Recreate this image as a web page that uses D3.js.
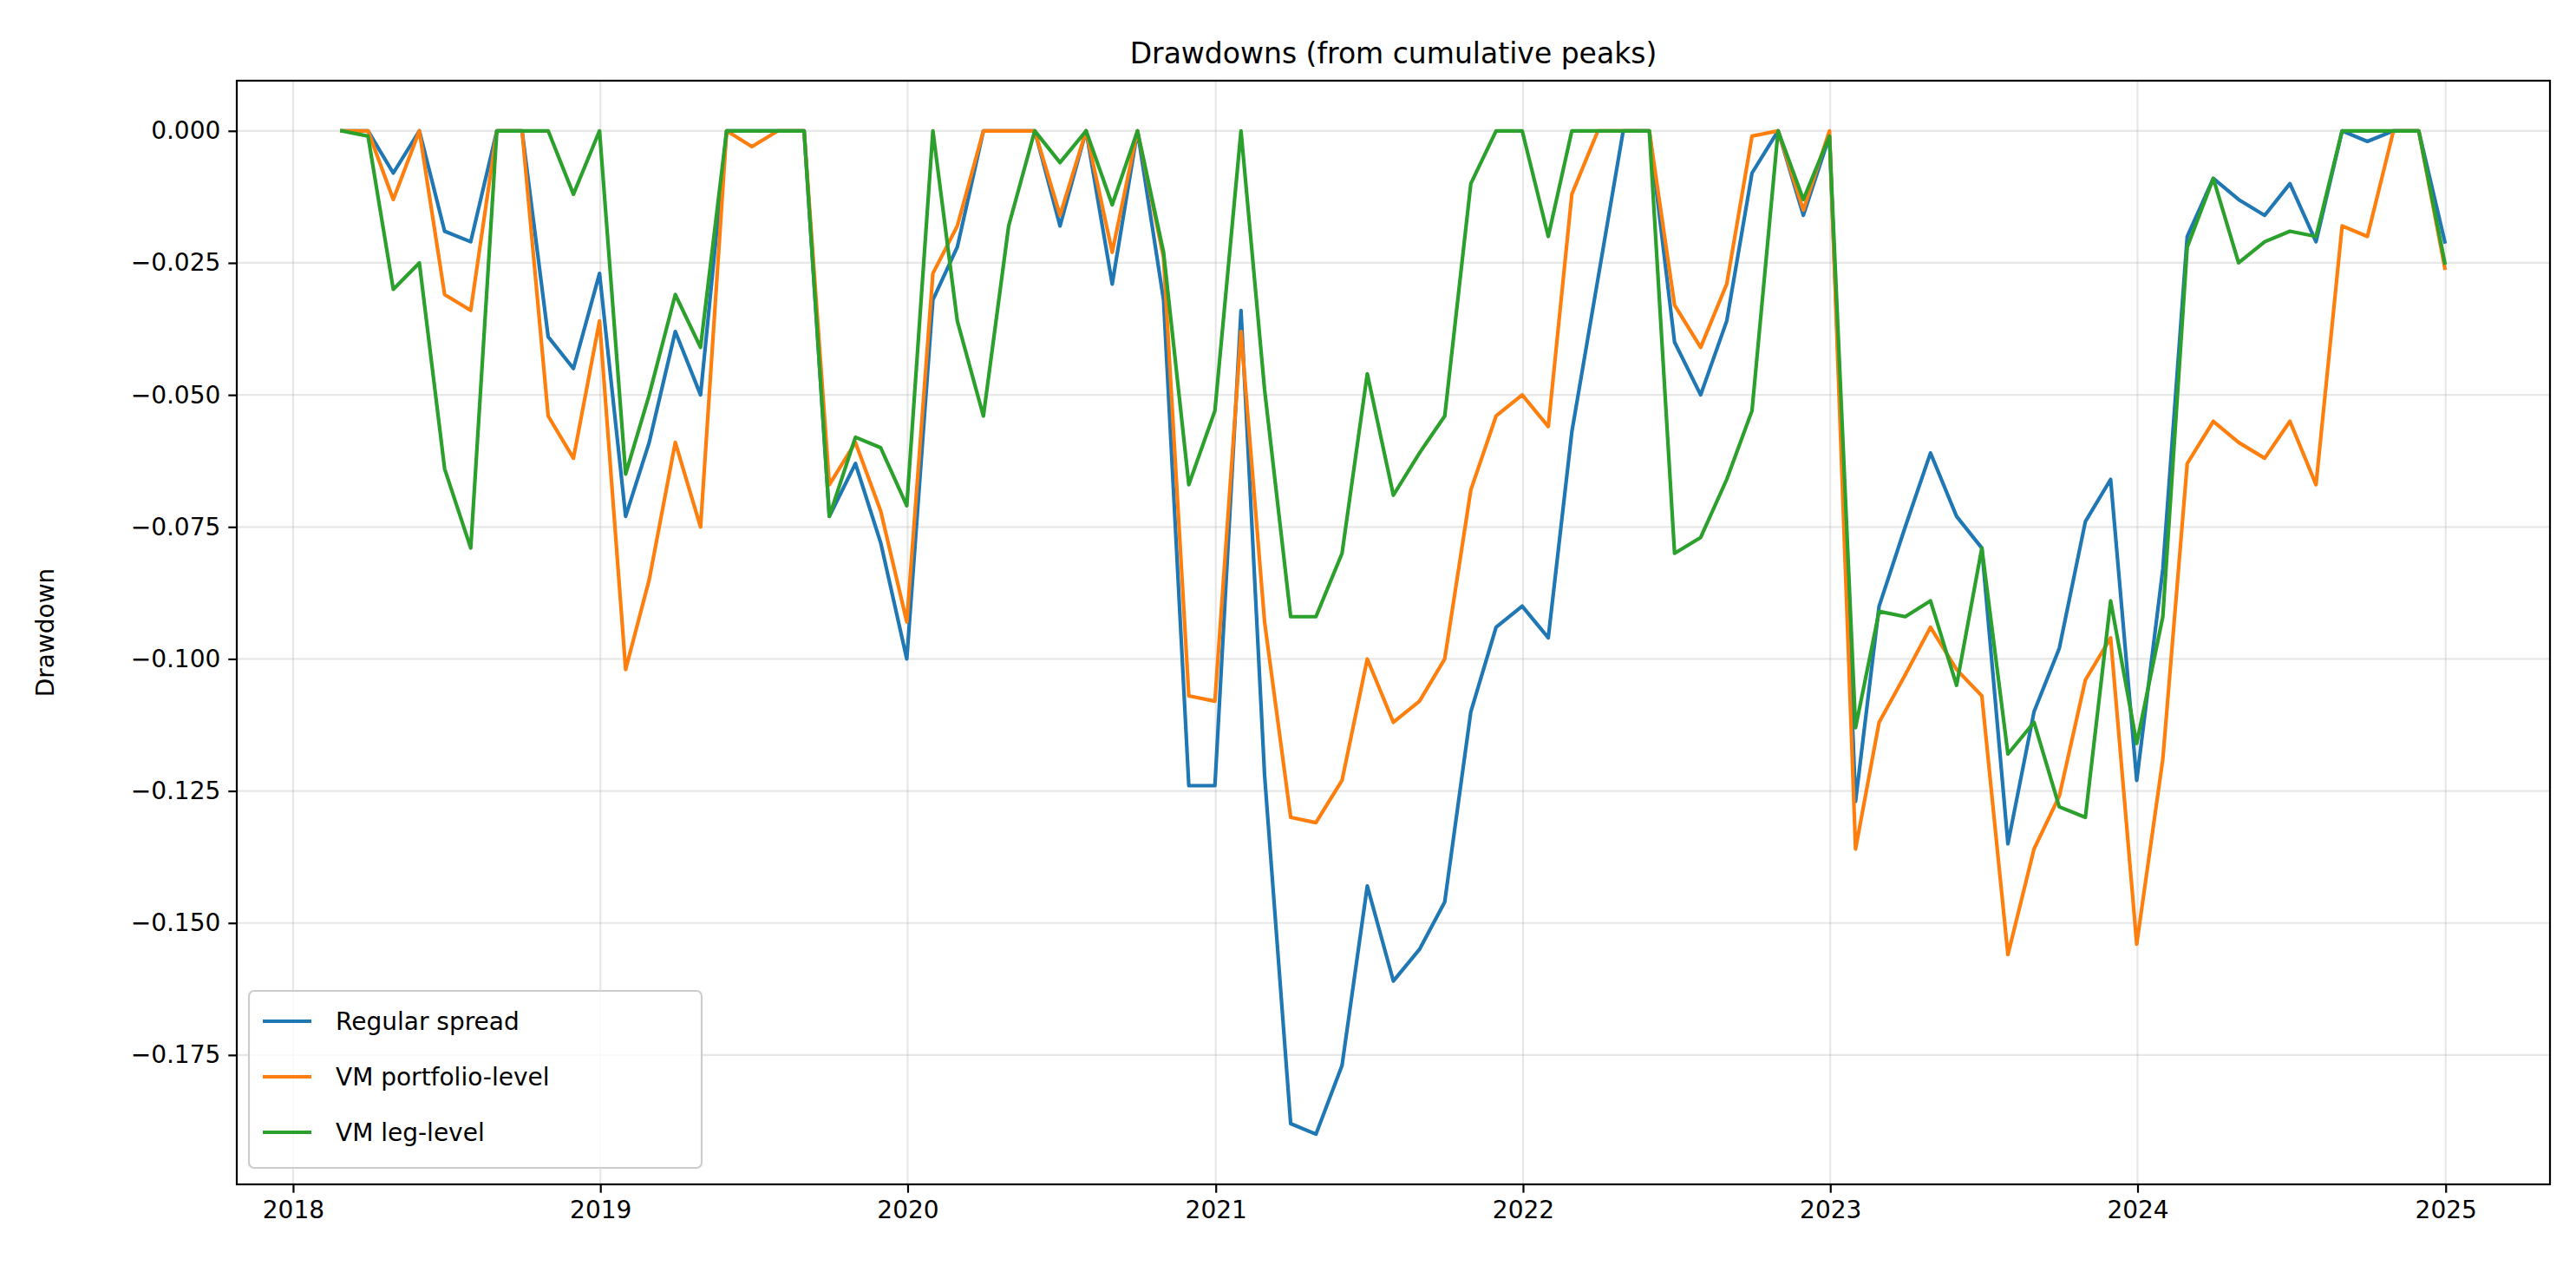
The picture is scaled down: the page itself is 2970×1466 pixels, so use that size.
<!DOCTYPE html>
<html>
<head>
<meta charset="utf-8">
<script src="https://cdn.jsdelivr.net/npm/d3@7"></script>
<style>
  body { margin: 0; background: #fff; }
  text { font-family: "DejaVu Sans", sans-serif; }
</style>
</head>
<body>
<svg id="chart" width="2970" height="1466"></svg>
<script>
// month-end dates, Feb 2018 .. Dec 2024
let months = d3.range(83).map(i => new Date(2018, 2 + i, 0));

let regular = [0, 0, -0.008, 0, -0.019, -0.021, 0, 0, -0.039, -0.045, -0.027,
  -0.073, -0.059, -0.038, -0.050, 0, 0, 0, 0, -0.073, -0.063, -0.078, -0.100,
  -0.032, -0.022, 0, 0, 0, -0.018, 0, -0.029, 0, -0.032, -0.124, -0.124,
  -0.034, -0.122, -0.188, -0.190, -0.177, -0.143, -0.161, -0.155, -0.146, -0.110, -0.094, -0.090,
  -0.096, -0.057, -0.028, 0, 0, -0.040, -0.050, -0.036, -0.008, 0, -0.016, -0.001,
  -0.127, -0.090, -0.075, -0.061, -0.073, -0.079, -0.135, -0.110, -0.098, -0.074, -0.066, -0.123,
  -0.083, -0.020, -0.009, -0.013, -0.016, -0.010, -0.021, 0, -0.002, 0, 0, -0.021];

let vmPortfolio = [0, 0, -0.013, 0, -0.031, -0.034, 0, 0, -0.054, -0.062, -0.036,
  -0.102, -0.085, -0.059, -0.075, 0, -0.003, 0, 0, -0.067, -0.059, -0.072, -0.093,
  -0.027, -0.018, 0, 0, 0, -0.016, 0, -0.023, 0, -0.024, -0.107, -0.108,
  -0.038, -0.093, -0.130, -0.131, -0.123, -0.100, -0.112, -0.108, -0.100, -0.068, -0.054, -0.050,
  -0.056, -0.012, 0, 0, 0, -0.033, -0.041, -0.029, -0.001, 0, -0.015, 0,
  -0.136, -0.112, -0.103, -0.094, -0.102, -0.107, -0.156, -0.136, -0.126, -0.104, -0.096, -0.154,
  -0.119, -0.063, -0.055, -0.059, -0.062, -0.055, -0.067, -0.018, -0.020, 0, 0, -0.026];

let vmLeg = [0, -0.001, -0.030, -0.025, -0.064, -0.079, 0, 0, 0, -0.012, 0,
  -0.065, -0.050, -0.031, -0.041, 0, 0, 0, 0, -0.073, -0.058, -0.060, -0.071,
  0, -0.036, -0.054, -0.018, 0, -0.006, 0, -0.014, 0, -0.023, -0.067, -0.053,
  0, -0.049, -0.092, -0.092, -0.080, -0.046, -0.069, -0.061, -0.054, -0.010, 0, 0,
  -0.020, 0, 0, 0, 0, -0.080, -0.077, -0.066, -0.053, 0, -0.013, -0.001,
  -0.113, -0.091, -0.092, -0.089, -0.105, -0.079, -0.118, -0.112, -0.128, -0.130, -0.089, -0.116,
  -0.092, -0.022, -0.009, -0.025, -0.021, -0.019, -0.020, 0, 0, 0, 0, -0.025];

let seriesNames = ["Regular spread", "VM portfolio-level", "VM leg-level"];
let seriesColors = ["#1f77b4", "#ff7f0e", "#2ca02c"];
let yTicks = [0, -0.025, -0.05, -0.075, -0.1, -0.125, -0.15, -0.175];
let xTicks = d3.range(2018, 2026).map(yr => new Date(yr, 0, 1));

let mLeft = 273, mRight = 2940, mTop = 93, mBottom = 1365;
let svg = d3.select("#chart");

let t0 = months[0].getTime(), t1 = months[months.length - 1].getTime();
let pad = (t1 - t0) * 0.05;
let x = d3.scaleTime().domain([new Date(t0 - pad), new Date(t1 + pad)]).range([mLeft, mRight]);
let y = d3.scaleLinear().domain([-0.1995, 0.0095]).range([mBottom, mTop]);

// grid
svg.append("g").selectAll("line").data(xTicks).join("line")
  .attr("x1", d => x(d)).attr("x2", d => x(d)).attr("y1", mTop).attr("y2", mBottom)
  .attr("stroke", "#b0b0b0").attr("stroke-opacity", 0.3).attr("stroke-width", 2.2);
svg.append("g").selectAll("line").data(yTicks).join("line")
  .attr("y1", d => y(d)).attr("y2", d => y(d)).attr("x1", mLeft).attr("x2", mRight)
  .attr("stroke", "#b0b0b0").attr("stroke-opacity", 0.3).attr("stroke-width", 2.2);

// axes
let xAxis = svg.append("g").attr("transform", `translate(0,${mBottom})`)
  .call(d3.axisBottom(x).tickValues(xTicks).tickFormat(d3.timeFormat("%Y")).tickSize(9.7).tickPadding(9));
let yAxis = svg.append("g").attr("transform", `translate(${mLeft},0)`)
  .call(d3.axisLeft(y).tickValues(yTicks).tickFormat(d => d3.format(".3f")(d).replace("-", "\u2212")).tickSize(9.7).tickPadding(9));
[xAxis, yAxis].forEach(a => {
  a.select(".domain").remove();
  a.selectAll("line").attr("stroke-width", 2.2).attr("stroke", "#000");
  a.selectAll("text").attr("font-size", 28).attr("fill", "#000")
    .style("font-family", "DejaVu Sans");
});

// lines
let line = d3.line().x((d, i) => x(months[i])).y(d => y(d));
[regular, vmPortfolio, vmLeg].forEach((s, k) => {
  svg.append("path").datum(s).attr("d", line).attr("fill", "none")
    .attr("stroke", seriesColors[k]).attr("stroke-width", 4.2)
    .attr("stroke-linejoin", "round").attr("stroke-linecap", "square");
});

// frame
svg.append("rect").attr("x", mLeft).attr("y", mTop).attr("width", mRight - mLeft).attr("height", mBottom - mTop)
  .attr("fill", "none").attr("stroke", "#000").attr("stroke-width", 2.2);

// title, label
svg.append("text").attr("x", (mLeft + mRight) / 2).attr("y", mTop - 20).attr("text-anchor", "middle")
  .attr("font-size", 33).text("Drawdowns (from cumulative peaks)");
svg.append("text").attr("transform", `translate(62,${(mTop + mBottom) / 2}) rotate(-90)`)
  .attr("text-anchor", "middle").attr("font-size", 28).text("Drawdown");

// legend
let lg = svg.append("g").attr("transform", "translate(287,1142)");
lg.append("rect").attr("width", 522).attr("height", 204).attr("rx", 6)
  .attr("fill", "#fff").attr("fill-opacity", 0.8).attr("stroke", "#cccccc").attr("stroke-width", 2.2);
seriesNames.forEach((n, i) => {
  let yy = 35 + i * 64;
  lg.append("line").attr("x1", 16).attr("x2", 72).attr("y1", yy).attr("y2", yy)
    .attr("stroke", seriesColors[i]).attr("stroke-width", 4.2);
  lg.append("text").attr("x", 100).attr("y", yy + 10).attr("font-size", 28).text(n);
});
</script>
</body>
</html>
